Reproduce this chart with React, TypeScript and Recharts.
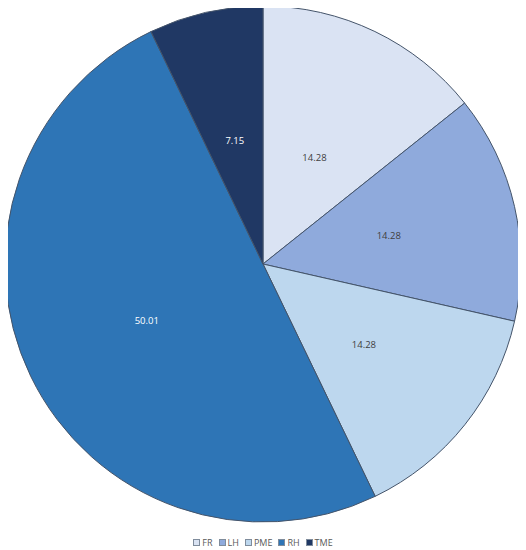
import React from 'react';
import { PieChart, Pie, Cell } from 'recharts';

const categories = ['FR', 'LH', 'PME', 'RH', 'TME'];
const values = [14.28, 14.28, 14.28, 50.01, 7.15];
const colors = ['#dae3f3', '#8faadc', '#bdd7ee', '#2e75b6', '#203864'];
const labelColors = ['#404040', '#404040', '#404040', '#ffffff', '#ffffff'];
// label distance from centre, as a share of the radius
const labelRadius = [0.46, 0.5, 0.5, 0.5, 0.49];

const data = categories.map((name, i) => ({ name, value: values[i] }));

const RADIAN = Math.PI / 180;

const renderLabel = (props: any) => {
  const { cx, cy, midAngle, outerRadius, index, value } = props;
  const r = outerRadius * labelRadius[index];
  const x = cx + r * Math.cos(-midAngle * RADIAN);
  const y = cy + r * Math.sin(-midAngle * RADIAN);
  return (
    <text
      x={x}
      y={y}
      fill={labelColors[index]}
      textAnchor="middle"
      dominantBaseline="central"
      fontSize={9.5}
      fontFamily="'Open Sans', sans-serif"
    >
      {value.toFixed(2)}
    </text>
  );
};

const Legend = () => (
  <div
    style={{
      position: 'absolute',
      top: 528,
      left: 0,
      width: 510,
      display: 'flex',
      justifyContent: 'center',
      gap: 6,
      fontFamily: "'Open Sans', sans-serif",
      fontSize: 9,
      color: '#595959',
    }}
  >
    {categories.map((c, i) => (
      <span key={c} style={{ display: 'flex', alignItems: 'center', gap: 2 }}>
        <span
          style={{
            display: 'inline-block',
            width: 5,
            height: 5,
            background: colors[i],
            border: '1px solid #7f8c9c',
          }}
        />
        {c}
      </span>
    ))}
  </div>
);

export default function App() {
  return (
    <div style={{ position: 'relative', width: 518, height: 542 }}>
      <PieChart width={518} height={542} margin={{ top: 0, right: 0, bottom: 0, left: 0 }}>
        <Pie
          data={data}
          dataKey="value"
          nameKey="name"
          cx={255}
          cy={256}
          outerRadius={258}
          startAngle={90}
          endAngle={-270}
          stroke="#44546a"
          strokeWidth={1}
          label={renderLabel}
          labelLine={false}
          isAnimationActive={false}
        >
          {data.map((d, i) => (
            <Cell key={d.name} fill={colors[i]} />
          ))}
        </Pie>
      </PieChart>
      <Legend />
    </div>
  );
}
